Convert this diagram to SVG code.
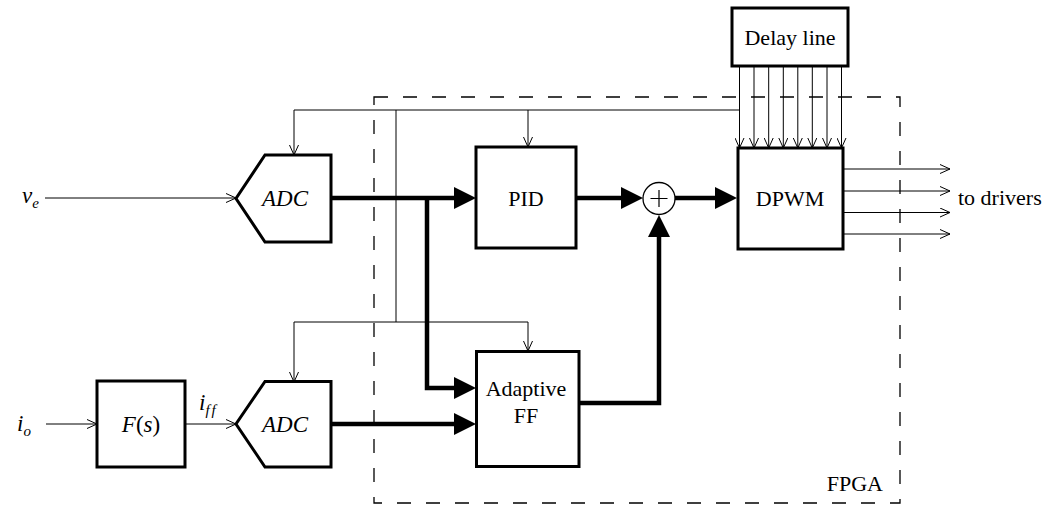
<svg xmlns="http://www.w3.org/2000/svg" width="1050" height="508" viewBox="0 0 1050 508">
<style>
.box{fill:#fff;stroke:#000;stroke-width:3}
.thin{fill:none;stroke:#000;stroke-width:1}
.thick{fill:none;stroke:#000;stroke-width:4.5;stroke-linejoin:miter}
.t{font-family:'Liberation Serif','Times New Roman',Times,'DejaVu Serif',serif;font-size:22px;fill:#000}
.m{font-family:'Liberation Serif','Times New Roman',Times,'DejaVu Serif',serif;font-size:23px;font-style:italic;fill:#000}
.sub{font-size:15px}
</style>
<defs>
<marker id="open" viewBox="0 0 10 10" refX="10" refY="5" markerWidth="10" markerHeight="10" markerUnits="userSpaceOnUse" orient="auto">
<path d="M0,0.5 L10,5 L0,9.5" fill="none" stroke="#000" stroke-width="1"/>
</marker>
<marker id="solid" viewBox="0 0 22 22" refX="0" refY="11" markerWidth="22" markerHeight="22" markerUnits="userSpaceOnUse" orient="auto">
<path d="M0,0 L22,11 L0,22 Z" fill="#000"/>
</marker>
</defs>
<g id="fpga">
<rect x="374" y="97" width="526" height="406" fill="none" stroke="#000" stroke-width="1.3" stroke-dasharray="14 15"/>
<text class="t" x="883" y="491" text-anchor="end">FPGA</text>
</g>
<g id="connectors">
<path class="thin" d="M45,198 H236" marker-end="url(#open)"/>
<path class="thin" d="M46,424 H97" marker-end="url(#open)"/>
<path class="thin" d="M185,424 H236" marker-end="url(#open)"/>
<path class="thin" d="M739,110 H294 V155" marker-end="url(#open)"/>
<path class="thin" d="M528,110 V147" marker-end="url(#open)"/>
<path class="thin" d="M396,110 V322"/>
<path class="thin" d="M528,322 H294 V382" marker-end="url(#open)"/>
<path class="thin" d="M528,322 V351" marker-end="url(#open)"/>
<path class="thin" d="M739.5,66 V148" marker-end="url(#open)"/>
<path class="thin" d="M754,66 V148" marker-end="url(#open)"/>
<path class="thin" d="M768.7,66 V148" marker-end="url(#open)"/>
<path class="thin" d="M783.3,66 V148" marker-end="url(#open)"/>
<path class="thin" d="M797.8,66 V148" marker-end="url(#open)"/>
<path class="thin" d="M812.3,66 V148" marker-end="url(#open)"/>
<path class="thin" d="M827,66 V148" marker-end="url(#open)"/>
<path class="thin" d="M841.5,66 V148" marker-end="url(#open)"/>
<path class="thin" d="M843,169 H950" marker-end="url(#open)"/>
<path class="thin" d="M843,191 H950" marker-end="url(#open)"/>
<path class="thin" d="M843,212.5 H950" marker-end="url(#open)"/>
<path class="thin" d="M843,234 H950" marker-end="url(#open)"/>
<path class="thick" d="M331,198 H454" marker-end="url(#solid)"/>
<path class="thick" d="M427,198 V388 H454" marker-end="url(#solid)"/>
<path class="thick" d="M331,424 H454" marker-end="url(#solid)"/>
<path class="thick" d="M576,198 H621" marker-end="url(#solid)"/>
<path class="thick" d="M579,403 H659 V237" marker-end="url(#solid)"/>
<path class="thick" d="M675,198 H715" marker-end="url(#solid)"/>
</g>
<g id="labels">
<text class="m" x="22" y="203">v<tspan class="sub" dy="5">e</tspan></text>
<text class="m" x="17" y="431">i<tspan class="sub" dy="5">o</tspan></text>
<text class="m" x="199" y="410">i<tspan class="sub" dy="5" letter-spacing="2">ff</tspan></text>
<text class="t" x="958" y="205">to drivers</text>
</g>
<g id="adc1">
<polygon class="box" points="265,155 331,155 331,242 265,242 236,198.5"/>
<text class="m" x="285" y="206" text-anchor="middle">ADC</text>
</g>
<g id="adc2">
<polygon class="box" points="265,381.5 331,381.5 331,467 265,467 236,424"/>
<text class="m" x="285" y="432" text-anchor="middle">ADC</text>
</g>
<g id="fs">
<rect class="box" x="97" y="381" width="88" height="86"/>
<text class="m" x="141" y="432" text-anchor="middle">F<tspan font-style="normal">(</tspan>s<tspan font-style="normal">)</tspan></text>
</g>
<g id="pid">
<rect class="box" x="476" y="147" width="100" height="101"/>
<text class="t" x="526" y="206" text-anchor="middle">PID</text>
</g>
<g id="aff">
<rect class="box" x="476.5" y="351.5" width="102.5" height="115"/>
<text class="t" x="526" y="396" text-anchor="middle">Adaptive</text>
<text class="t" x="526" y="423" text-anchor="middle">FF</text>
</g>
<g id="sum">
<circle cx="659" cy="198.5" r="16" fill="#fff" stroke="#000" stroke-width="1.3"/>
<path d="M659,190 V207 M650.5,198.5 H667.5" stroke="#000" stroke-width="1.2"/>
</g>
<g id="dpwm">
<rect class="box" x="738" y="148" width="105" height="101"/>
<text class="t" x="790" y="206" text-anchor="middle">DPWM</text>
</g>
<g id="delay">
<rect class="box" x="732" y="8" width="116" height="58"/>
<text class="t" x="790" y="45" text-anchor="middle">Delay line</text>
</g>
</svg>
